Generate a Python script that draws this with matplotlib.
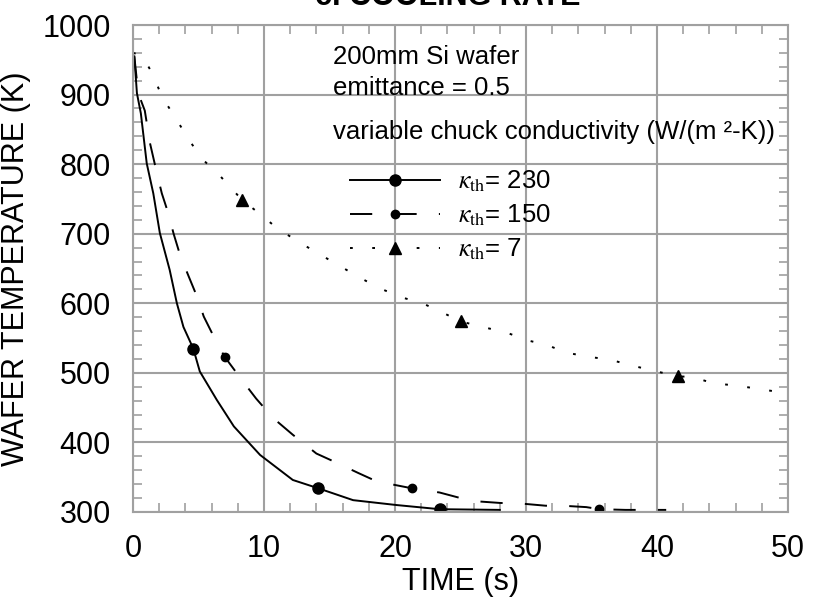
import numpy as np
import matplotlib
matplotlib.use("Agg")
from matplotlib import pyplot as plt
from matplotlib.ticker import MultipleLocator

plt.rcParams['font.family'] = ['Liberation Sans', 'DejaVu Sans']
plt.rcParams['mathtext.fontset'] = 'stix'
plt.rcParams['lines.scale_dashes'] = False

# kappa_th = 230 (solid)
t_230 = [0.1, 0.3, 0.6, 0.75, 1.05, 1.55, 2.05, 2.8, 3.35, 3.85, 4.6, 5.1, 6.4,
         7.7, 9.7, 12.2, 14.15, 16.8, 20.1, 23.4, 28.0]
T_230 = [955, 902, 873, 849, 801, 758, 701, 648, 600, 566, 535, 502, 461,
         423, 382, 346, 334, 317, 310, 304, 303]
mk_230 = [10, 16, 19]

# kappa_th = 150 (dashed)
t_150 = [0.1, 0.4, 0.9, 1.3, 1.8, 2.2, 2.7, 3.1, 3.6, 4.2, 4.9, 5.4, 6.3, 7.0,
         8.3, 9.4, 10.7, 12.2, 14.0, 15.4, 17.2, 18.6, 21.3, 23.4, 25.0, 26.5,
         28.0, 29.7, 31.5, 32.8, 34.6, 35.6, 37.6, 40.7]
T_150 = [955, 902, 877, 830, 789, 758, 729, 700, 669, 641, 609, 581, 547, 523,
         490, 463, 435, 411, 384, 372, 356, 344, 334, 328, 320, 315,
         313, 312, 309, 309, 307, 304, 303, 303]
mk_150 = [13, 22, 31]

# kappa_th = 7 (dotted)
t_7 = [0.0, 0.7, 1.55, 2.2, 3.2, 4.2, 5.25, 6.65, 8.35, 9.45, 11.0, 12.75, 14.2,
       17.3, 18.9, 20.6, 22.1, 23.7, 25.0, 26.9, 28.5, 30.05, 31.6, 33.1, 34.8,
       36.4, 38.0, 39.5, 41.6, 42.7, 44.3, 45.9, 47.4, 49.1, 50.0]
T_7 = [960, 956, 928, 897, 868, 837, 808, 783, 748, 732, 708, 687, 671,
       637, 621, 608, 600, 586, 574, 565, 558, 547, 540, 529, 523,
       519, 511, 504, 495, 494, 485, 482, 478, 473, 471]
mk_7 = [8, 18, 28]

labels = [r'$\kappa_{\mathrm{th}}$= 230', r'$\kappa_{\mathrm{th}}$= 150', r'$\kappa_{\mathrm{th}}$= 7']

gray = '#a0a0a0'

fig = plt.figure(figsize=(8.25, 6), dpi=100)
ax = fig.add_axes([0.1612, 0.1467, 0.794, 0.8116])

l1, = ax.plot(t_230, T_230, color='k', lw=1.4, ls='-', marker='o', ms=8,
              markevery=mk_230)
l2, = ax.plot(t_150, T_150, color='k', lw=1.4, dashes=(16, 16), marker='o', ms=6,
              markevery=mk_150)
l3, = ax.plot(t_7, T_7, color='k', lw=1.4, dashes=(2, 14), marker='^', ms=8,
              markevery=mk_7)

ax.set_xlim(0, 50)
ax.set_ylim(300, 1000)
ax.xaxis.set_major_locator(MultipleLocator(10))
ax.xaxis.set_minor_locator(MultipleLocator(2))
ax.yaxis.set_major_locator(MultipleLocator(100))
ax.yaxis.set_minor_locator(MultipleLocator(20))
ax.grid(True, which='major', color=gray, lw=1.5)
ax.set_axisbelow(True)
for s in ax.spines.values():
    s.set_color(gray)
    s.set_linewidth(1.5)
ax.tick_params(which='both', direction='in', top=True, right=True, color=gray, width=1.2)
ax.tick_params(which='major', length=0)
ax.tick_params(which='minor', length=6.5)
ax.tick_params(axis='x', which='major', labelsize=22, pad=16)
ax.tick_params(axis='y', which='major', labelsize=22, pad=16)

ax.set_xlabel('TIME (s)', fontsize=22, labelpad=2)
ax.set_ylabel('WAFER TEMPERATURE (K)', fontsize=22, labelpad=8)

# title sits mostly above the figure edge, as in the reference
fig.text(0.543, 0.992, 'c. COOLING RATE', fontsize=22, fontweight='bold',
         ha='center', va='baseline')

ax.text(0.3053, 0.934, '200mm Si wafer', fontsize=18.5, transform=ax.transAxes, va='center')
ax.text(0.3053, 0.871, 'emittance = 0.5', fontsize=18.5, transform=ax.transAxes, va='center')
ax.text(0.3053, 0.780, 'variable chuck conductivity (W/(m \u00b2-K))', fontsize=18.5,
        transform=ax.transAxes, va='center')

ax.legend([l1, l2, l3], labels, loc='upper left', bbox_to_anchor=(0.331, 0.705),
          frameon=False, fontsize=18.5, handlelength=3.5, handletextpad=0.7,
          borderpad=0, borderaxespad=0, labelspacing=0.33, markerscale=1.0)

fig.savefig('out.png', dpi=100)
